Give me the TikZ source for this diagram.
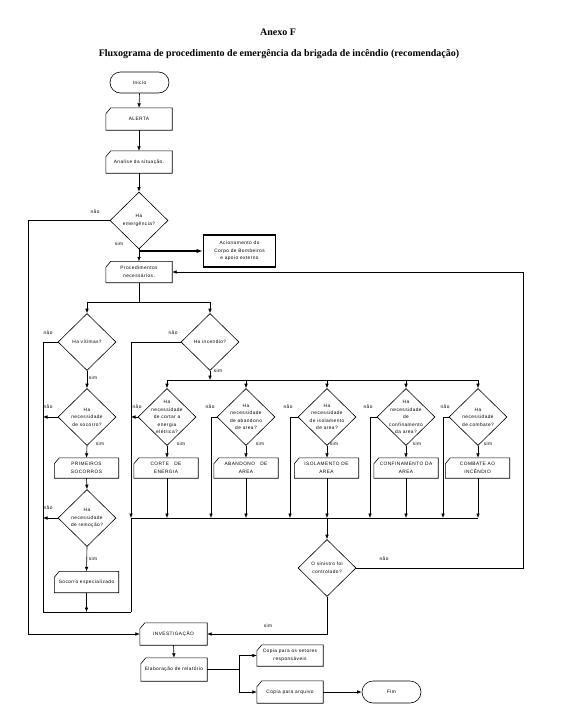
\documentclass[tikz,border=0pt]{standalone}
\usepackage{fontspec}
\setmainfont{Liberation Serif}
\newfontfamily\flowfont[LetterSpace=9]{Liberation Sans}
\usetikzlibrary{arrows.meta,shapes.geometric,calc}
\begin{document}
\begin{tikzpicture}[x=1pt,y=-1pt,
  ln/.style={line width=0.6pt},
  arr/.style={ln,-{Latex[length=4.5pt,width=3.6pt]}},
  thickarr/.style={line width=1.3pt,-{Latex[length=6pt,width=4.5pt]}},
  ftext/.style={font=\flowfont\fontsize{4.8}{7.5}\selectfont, align=center, inner sep=0pt},
  card/.style={ftext, minimum width=64pt, minimum height=21pt},
  term/.style={ftext, draw, ln, rounded corners=10.5pt, minimum width=59pt, minimum height=21pt},
  dia/.style={draw, ln, diamond, minimum width=58pt, minimum height=57pt, inner sep=0pt},
  lbl/.style={ftext},
  ttl/.style={font=\bfseries\fontsize{10}{12}\selectfont, inner sep=0pt}
]
\useasboundingbox (0,0) rectangle (567,723);
\fill[white] (0,0) rectangle (567,723);

% titles
\node[ttl] (anexo) at (278,32) {Anexo F};
\node[ttl] (titulo) at (279,54) {Fluxograma de procedimento de emergência da brigada de incêndio (recomendação)};

% top column
\node[term] (inicio) at (139.5,82.5) {Inicio};
\node[card, minimum width=66pt, minimum height=22pt] (alerta) at (139,119) {ALERTA};
\node[card, minimum width=66pt, minimum height=22pt] (analise) at (139,162) {Analise da situação.};
\node[dia] (emerg) at (139,220.5) {};
\node[ftext] (emergt) at (emerg) {Ha\\emergência?};
\node[ftext, draw, line width=1.8pt, minimum width=72pt, minimum height=32pt] (acion) at (239.5,251) {Acionamento do\\Corpo de Bombeiros\\e apoio externo};
\node[card, minimum width=66pt] (proc) at (139,272) {Procedimentos\\necessários.};

% left branch
\node[dia] (vitimas) at (87,342) {};
\node[ftext] (vitimast) at (vitimas) {Ha vítimas?};
\node[dia] (socorro) at (87,417) {};
\node[ftext] (socorrot) at (socorro) {Ha\\necessidade\\de socorro?};
\node[card, minimum height=20pt] (primeiros) at (86.5,468) {PRIMEIROS\\SOCORROS};
\node[dia] (remocao) at (87,518) {};
\node[ftext] (remocaot) at (remocao) {Ha\\necessidade\\de remoção?};
\node[card] (especial) at (86.5,582) {Socorro especializado};

% right branch
\node[dia] (incendio) at (210,342) {};
\node[ftext] (incendiot) at (incendio) {Ha incendio?};

\node[dia] (energia) at (167,417) {};
\node[ftext] (energiat) at (energia) {Ha\\necessidade\\de cortar a\\energia\\elétrica?};
\node[dia] (abandD) at (246,417) {};
\node[ftext] (abandDt) at (abandD) {Ha\\necessidade\\de abandono\\de area?};
\node[dia] (isolD) at (327,417) {};
\node[ftext] (isolDt) at (isolD) {Ha\\necessidade\\de isolamento\\de area?};
\node[dia] (confD) at (406,417) {};
\node[ftext] (confDt) at (confD) {Ha\\necessidade\\de\\confinamento\\da area?};
\node[dia] (combD) at (478,417) {};
\node[ftext] (combDt) at (combD) {Ha\\necessidade\\de combate?};

\node[card, minimum height=20pt] (corte) at (166,468) {CORTE\ \ \ DE\\ENERGIA};
\node[card, minimum height=20pt] (aband) at (246,468) {ABANDONO\ \ \ DE\\AREA};
\node[card, minimum height=20pt] (isol) at (326.5,468) {ISOLAMENTO DE\\AREA};
\node[card, minimum height=20pt] (conf) at (406,468) {CONFINAMENTO DA\\AREA};
\node[card, minimum height=20pt] (comb) at (477.5,468) {COMBATE AO\\INCÊNDIO};

\node[dia] (sinistro) at (327,568) {};
\node[ftext] (sinistrot) at (sinistro) {O sinistro foi\\controlado?};

% bottom
\node[card, minimum width=67pt, minimum height=22pt] (invest) at (173.5,634) {INVESTIGAÇÃO};
\node[card, minimum width=66pt, minimum height=23pt] (elab) at (174,669.5) {Elaboração de relatório};
\node[card, minimum width=66pt] (cop1) at (290,655.5) {Copia para os setores\\responsáveis};
\node[card, minimum width=66pt, minimum height=22pt] (cop2) at (290,692) {Copia para arquivo};
\node[term, minimum height=22pt, rounded corners=11pt] (fim) at (391.5,692) {Fim};

% card outlines (top-left corner cut)
\foreach \n in {alerta,analise,proc,primeiros,especial,corte,aband,isol,conf,comb,invest,elab,cop1,cop2}
  \draw[ln] (\n.south west) -- ([yshift=-6pt]\n.north west) -- ([xshift=5pt]\n.north west) -- (\n.north east) -- (\n.south east) -- cycle;

% coordinates
\coordinate (s1) at (139,302);
\coordinate (L1) at (43,342);
\coordinate (L2) at (43,612);
\coordinate (R2) at (131,612);
\coordinate (b2) at (210,380);
\coordinate (b3L) at (131,518);
\coordinate (b3R) at (478,518);
\coordinate (xa) at (211,518);
\coordinate (xi) at (290,518);
\coordinate (xc) at (370,518);
\coordinate (xb) at (443,518);
\coordinate (fbx) at (523,272);
\coordinate (nx) at (28.5,220.5);
\coordinate (sp) at (239,669.5);

% top flow
\draw[arr] (inicio.south) -- (alerta.north);
\draw[arr] (alerta.south) -- (analise.north);
\draw[arr] (analise.south) -- (emerg.north);
\draw[arr] (emerg.south) -- (proc.north);
\draw[thickarr] (emerg.south |- acion.west) -- (acion.west);
\draw[ln] (proc.south) -- (s1);
\draw[arr] (s1) -| (vitimas.north);
\draw[arr] (s1) -| (incendio.north);

% left branch
\draw[ln] (vitimas.west) -- (L1) -- (L2) -- (R2);
\draw[arr] (vitimas.south) -- (socorro.north);
\draw[arr] (socorro.west) -- (socorro.west -| L1);
\draw[arr] (socorro.south) -- (primeiros.north);
\draw[arr] (primeiros.south) -- (remocao.north);
\draw[arr] (remocao.west) -- (remocao.west -| L1);
\draw[arr] (remocao.south) -- (especial.north);
\draw[arr] (especial.south) -- (especial.south |- L2);

% right branch
\draw[arr] (incendio.west) -| (b3L);
\draw[ln] (b3L) -- (R2);
\draw[ln] (b3L) -- (b3R);
\draw[arr] (incendio.south) -- (b2);
\draw[ln] (energia.north |- b2) -- (combD.north |- b2);
\foreach \d/\b in {energia/corte,abandD/aband,isolD/isol,confD/conf,combD/comb}{
  \draw[arr] (\d.north |- b2) -- (\d.north);
  \draw[arr] (\d.south) -- (\d.south |- \b.north);
  \draw[arr] (\d.south |- \b.south) -- (\d.south |- b3L);
}
\draw[arr] (energia.west) -- (energia.west -| b3L);
\draw[arr] (abandD.west) -| (xa);
\draw[arr] (isolD.west) -| (xi);
\draw[arr] (confD.west) -| (xc);
\draw[arr] (combD.west) -| (xb);

% sinistro
\draw[arr] (sinistro.north |- b3L) -- (sinistro.north);
\draw[arr] (sinistro.east) -| (fbx) -- (proc.east);
\draw[arr] (sinistro.south) |- (invest.east);
\draw[arr] (emerg.west) -- (nx) |- (invest.west);

% bottom
\draw[arr] (invest.south) -- (elab.north);
\draw[ln] (elab.east) -- (sp);
\draw[arr] (sp) |- (cop1.west);
\draw[arr] (sp) |- (cop2.west);
\draw[arr] (cop2.east) -- (fim.west);

% labels
\node[lbl] (l1) at (95,212) {não};
\node[lbl] (l2) at (119,244) {sim};
\node[lbl] (l3) at (48,333) {não};
\node[lbl] (l4) at (93,378) {sim};
\node[lbl] (l5) at (48,407) {não};
\node[lbl] (l6) at (100,444) {sim};
\node[lbl] (l7) at (48,508) {não};
\node[lbl] (l8) at (93,559) {sim};
\node[lbl] (l9) at (173,333) {não};
\node[lbl] (l10) at (218,371) {sim};
\node[lbl] (l11) at (137,407) {não};
\node[lbl] (l12) at (181,444) {sim};
\node[lbl] (l13) at (210,407) {não};
\node[lbl] (l14) at (260,444) {sim};
\node[lbl] (l15) at (288,407) {não};
\node[lbl] (l16) at (334,444) {sim};
\node[lbl] (l17) at (368,407) {não};
\node[lbl] (l18) at (417,444) {sim};
\node[lbl] (l19) at (445,407) {não};
\node[lbl] (l20) at (488,444) {sim};
\node[lbl] (l21) at (384,559) {não};
\node[lbl] (l22) at (268,626) {sim};
\end{tikzpicture}
\end{document}
